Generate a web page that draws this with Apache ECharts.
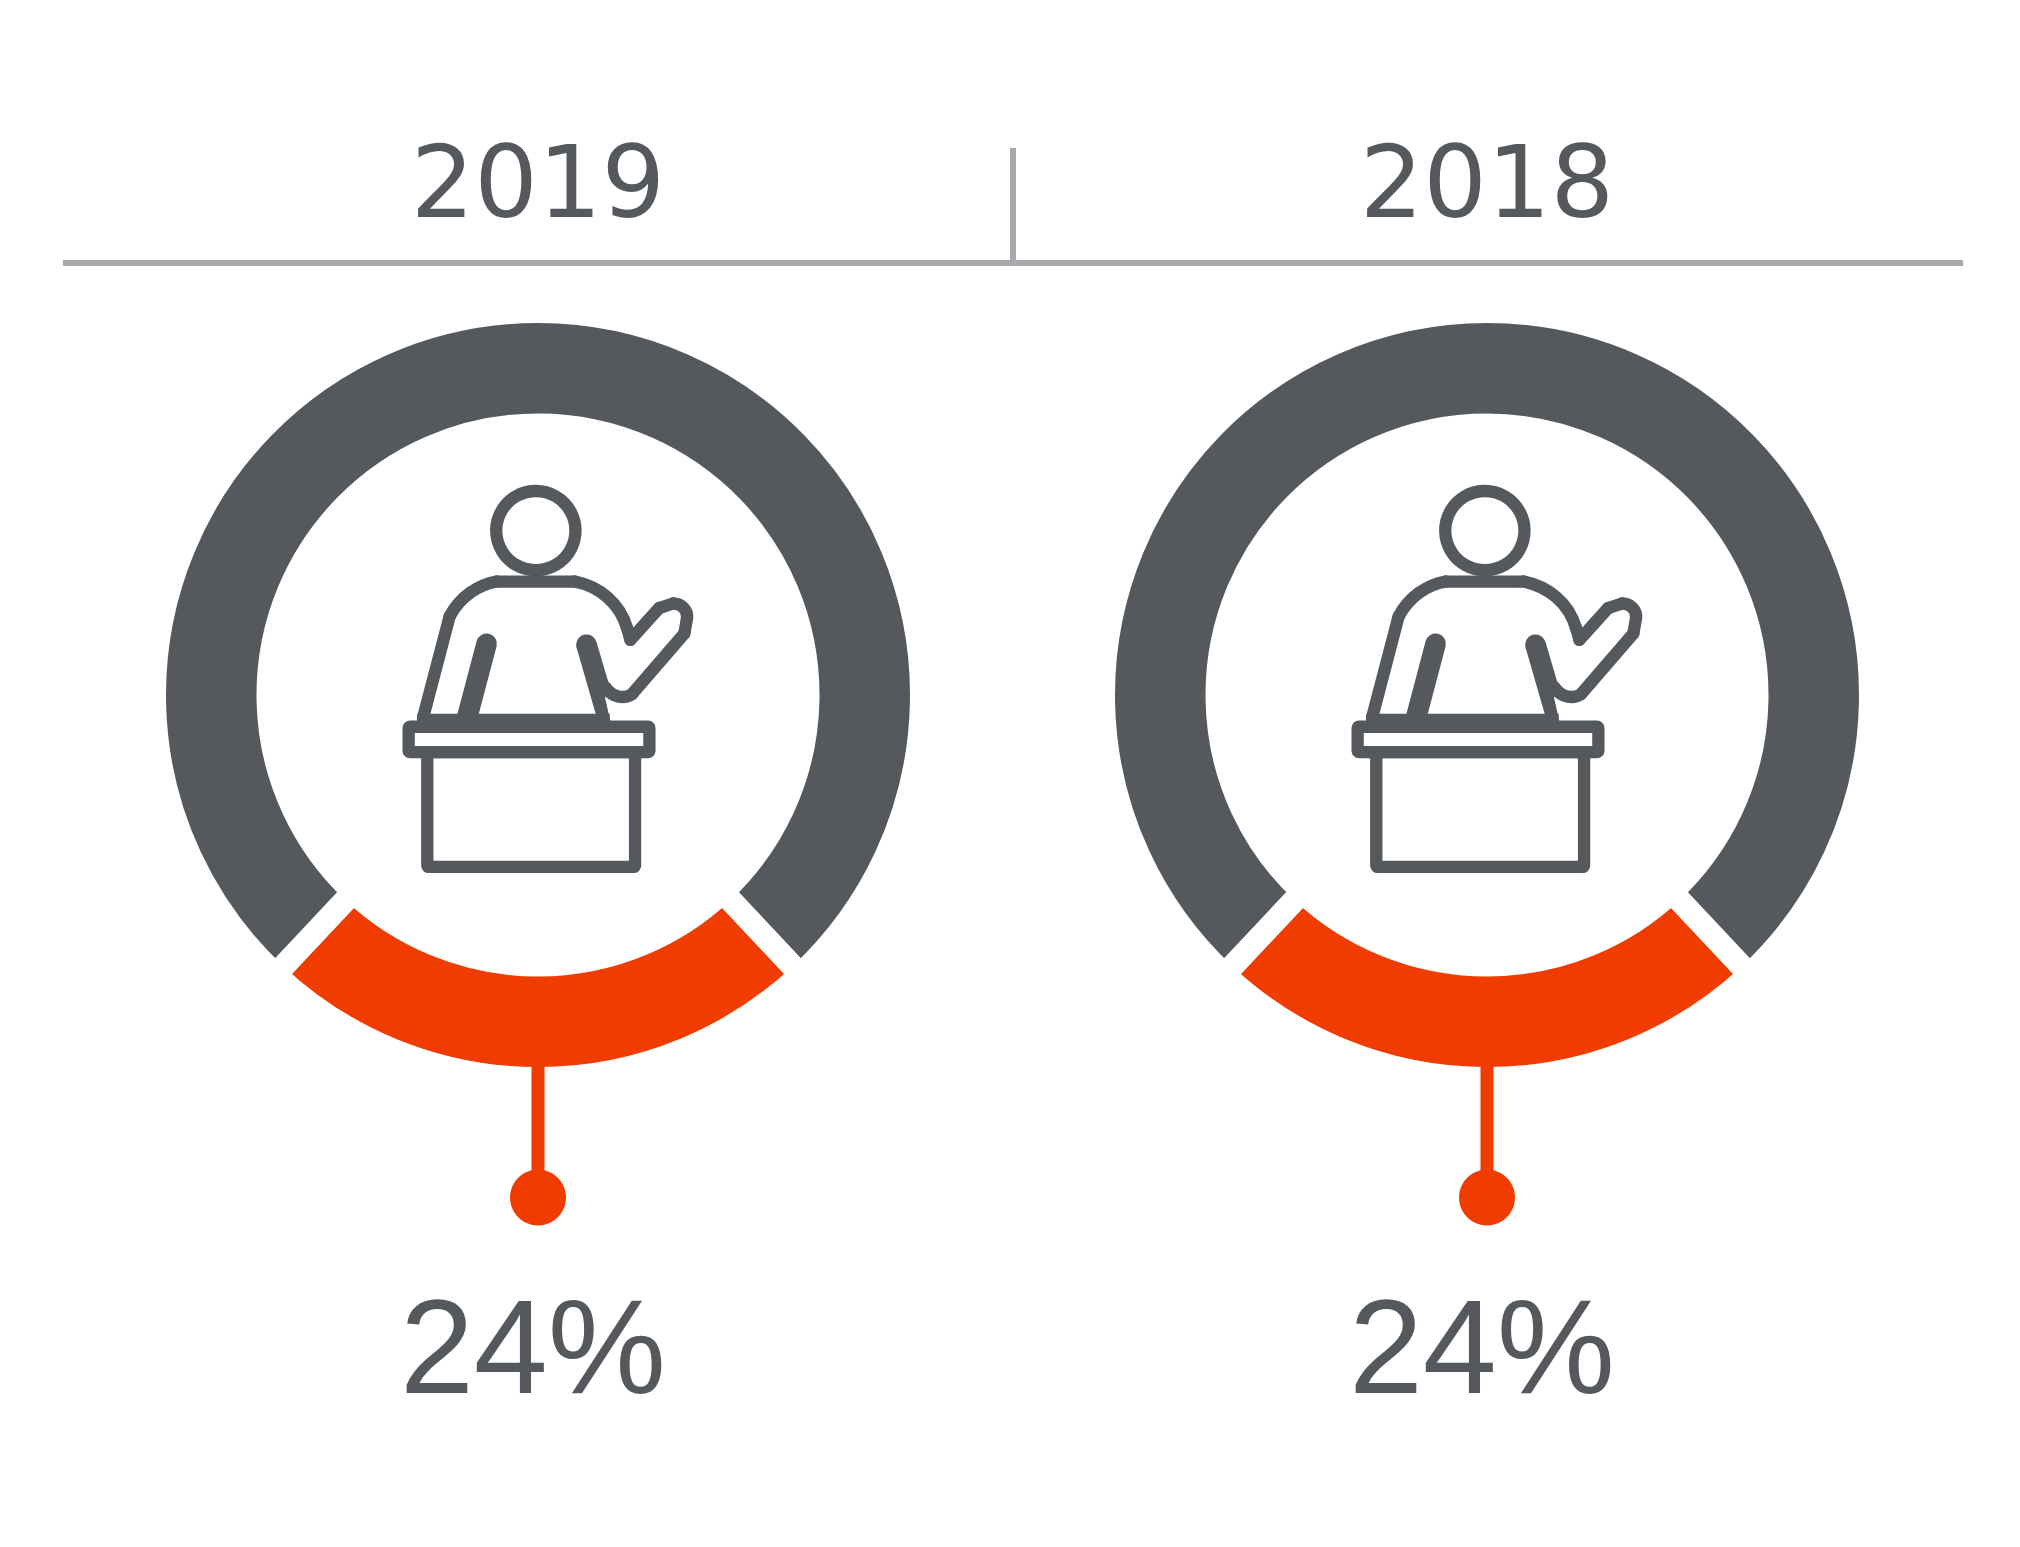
<!DOCTYPE html>
<html>
<head>
<meta charset="utf-8">
<title>Teacher share 2019 / 2018</title>
<style>
  html, body { margin: 0; background: #fff; }
  #chart { width: 2020px; height: 1547px; }
</style>
<script src="https://cdn.jsdelivr.net/npm/echarts@6/dist/echarts.min.js"></script>
</head>
<body>
<div id="chart"></div>
<script>
const years = ["2019", "2018"];
const highlighted = [24, 24];
const remainder = [76, 76];

const GREY = "#55585c";
const ORANGE = "#f03c00";
const RULE = "#a7a9ac";

// pixel layout of the two panels
const centersX = [538, 1487];
const centerY = 695;
const outerR = 372;
const innerR = 281.5;
const gap = 23;

// presenter icon, traced on a 3x grid, then scaled down
// straight runs of the figure's outline
const iconLines = [
  [129, 775, 209, 470],
  [350, 365, 585, 365],
  [742, 505, 752, 540],
  [752, 540, 838, 445],
  [838, 445, 880, 431],
  [922, 475, 914, 521],
  [914, 521, 757, 703]
];
// curved runs: x1, y1, x2, y2, cpx1, cpy1, cpx2, cpy2
const iconCurves = [
  [209, 470, 350, 365, 240, 410, 295, 375],
  [585, 365, 742, 505, 660, 380, 720, 430],
  [880, 431, 922, 475, 905, 431, 925, 450],
  [757, 703, 675, 680, 735, 717, 700, 717]
];
const rightArmOutline = [[590, 562], [650, 546], [688, 675], [676, 715], [692, 785], [650, 770]];

function iconFor(offsetX) {
  const line = { fill: null, stroke: GREY, lineWidth: 37, lineJoin: "round", lineCap: "round" };
  const solid = { fill: GREY };
  return {
    type: "group",
    x: 380 + offsetX,
    y: 460,
    scaleX: 1 / 3,
    scaleY: 1 / 3,
    silent: true,
    children: [
      { type: "circle", shape: { cx: 468, cy: 212, r: 119 }, style: line },
      ...iconLines.map(([x1, y1, x2, y2]) => ({ type: "line", shape: { x1, y1, x2, y2 }, style: line })),
      ...iconCurves.map(([x1, y1, x2, y2, cpx1, cpy1, cpx2, cpy2]) => ({
        type: "bezierCurve",
        shape: { x1, y1, x2, y2, cpx1, cpy1, cpx2, cpy2 },
        style: line
      })),
      { type: "polygon", shape: { points: rightArmOutline }, style: solid },
      { type: "circle", shape: { cx: 620, cy: 555, r: 31 }, style: solid },
      { type: "line", shape: { x1: 320, y1: 552, x2: 260, y2: 780 }, style: { stroke: GREY, lineWidth: 62, lineCap: "round" } },
      { type: "rect", shape: { x: 112, y: 762, width: 578, height: 40 }, style: solid },
      { type: "rect", shape: { x: 86, y: 801, width: 723, height: 76, r: 4 }, style: line },
      { type: "rect", shape: { x: 142, y: 877, width: 624, height: 345, r: 4 }, style: line }
    ]
  };
}

const series = years.map((y, i) => ({
  type: "pie",
  name: y,
  center: [centersX[i], centerY],
  // the white border eats half its width on every side, so grow the ring to compensate
  radius: [innerR - gap / 2, outerR + gap / 2],
  startAngle: 270 + highlighted[i] * 3.6 / 2,
  clockwise: true,
  silent: true,
  animation: false,
  label: { show: false },
  labelLine: { show: false },
  itemStyle: { borderColor: "#fff", borderWidth: gap },
  data: [
    { name: "highlighted", value: highlighted[i], itemStyle: { color: ORANGE } },
    { name: "remainder", value: remainder[i], itemStyle: { color: GREY } }
  ]
}));

const graphics = [
  { type: "rect", shape: { x: 63, y: 260, width: 1900, height: 6 }, style: { fill: RULE } },
  { type: "rect", shape: { x: 1010, y: 148, width: 6, height: 114 }, style: { fill: RULE } }
];

years.forEach((y, i) => {
  const cx = centersX[i];
  graphics.push(
    { type: "rect", z: 5, shape: { x: cx - 6.5, y: 1060, width: 13, height: 120 }, style: { fill: ORANGE } },
    { type: "circle", z: 5, shape: { cx: cx, cy: 1197.5, r: 28 }, style: { fill: ORANGE } },
    { type: "text", z: 5, style: { text: y, x: cx, y: 182, fill: GREY, font: "100px 'DejaVu Sans'", textAlign: "center", textVerticalAlign: "middle" } },
    // white outline thins the glyphs down to the reference's light weight
    { type: "text", z: 5, style: { text: highlighted[i] + "%", x: cx - 5, y: 1347, fill: GREY, stroke: "#fff", lineWidth: 2.5, font: "133px 'Liberation Sans'", textAlign: "center", textVerticalAlign: "middle" } },
    iconFor(cx - centersX[0])
  );
});

const chart = echarts.init(document.getElementById("chart"), null, { renderer: "svg" });
chart.setOption({
  backgroundColor: "#fff",
  animation: false,
  tooltip: { show: false },
  series,
  graphic: graphics
});
</script>
</body>
</html>
